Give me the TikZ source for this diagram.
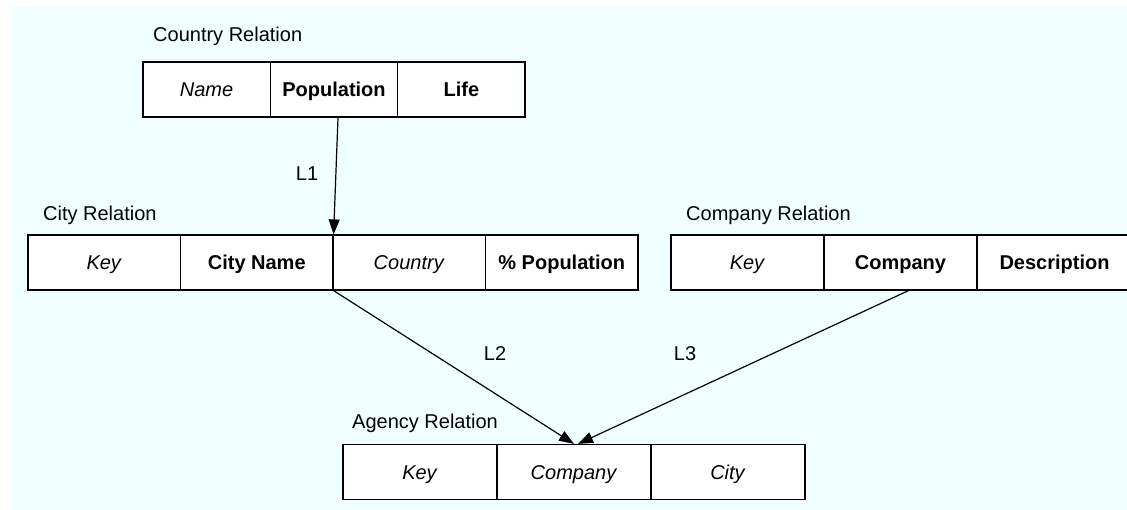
\documentclass[tikz,border=0pt]{standalone}
\usepackage{fontspec}
\setmainfont{Liberation Sans}
\usetikzlibrary{arrows.meta}
\definecolor{paneback}{RGB}{240,255,255}
\begin{document}
\begin{tikzpicture}[x=1pt,y=-1pt,
  cell/.style={draw=black,fill=white,line width=1.2pt,minimum height=55pt,
    inner sep=0pt,text height=17pt,text depth=2pt,
    font=\fontsize{20}{24}\selectfont},
  title/.style={anchor=west,inner sep=0pt,font=\fontsize{20}{24}\selectfont},
  lbl/.style={inner sep=0pt,font=\fontsize{20}{24}\selectfont},
  link/.style={draw=black,line width=1.2pt,-{Triangle[length=15pt,width=11pt]}}
]
\useasboundingbox (0,0) rectangle (1127,510);
\fill[paneback] (10,6) rectangle (1127,510);

% Country relation
\node[title] (tCountry) at (153,36) {Country Relation};
\node[cell,minimum width=127.3pt] (cName) at (206.6,89.5) {\textit{Name}};
\node[cell,minimum width=127.3pt] (cPop)  at (334,89.5)   {\textbf{Population}};
\node[cell,minimum width=127.3pt] (cLife) at (461.4,89.5) {\textbf{Life}};

% City relation
\node[title] (tCity) at (43,215) {City Relation};
\node[cell,minimum width=152.5pt] (yKey)  at (104.25,262.5) {\textit{Key}};
\node[cell,minimum width=152.5pt] (yName) at (256.75,262.5) {\textbf{City Name}};
\node[cell,minimum width=152.5pt] (yCtry) at (409.25,262.5) {\textit{Country}};
\node[cell,minimum width=152.5pt] (yPop)  at (561.75,262.5) {\textbf{\% Population}};

% Company relation (runs off the right edge)
\node[title] (tCompany) at (686,215) {Company Relation};
\node[cell,minimum width=153pt] (oKey)  at (747.5,262.5)  {\textit{Key}};
\node[cell,minimum width=153pt] (oComp) at (900.5,262.5)  {\textbf{Company}};
\node[cell,minimum width=155pt] (oDesc) at (1054.5,262.5) {\textbf{Description}};

% Agency relation
\node[title] (tAgency) at (352,423) {Agency Relation};
\node[cell,minimum width=154pt] (aKey)  at (420,472) {\textit{Key}};
\node[cell,minimum width=154pt] (aComp) at (574,472) {\textit{Company}};
\node[cell,minimum width=154pt] (aCity) at (728,472) {\textit{City}};

% Links between relations
\draw[link] ([xshift=4pt]cPop.south) -- (yName.north east);
\draw[link] (yName.south east) -- (aComp.north);
\draw[link] ([xshift=8pt]oComp.south) -- ([xshift=4pt]aComp.north);

\node[lbl] (l1) at (307,174) {L1};
\node[lbl] (l2) at (495,354) {L2};
\node[lbl] (l3) at (685,354) {L3};
\end{tikzpicture}
\end{document}
